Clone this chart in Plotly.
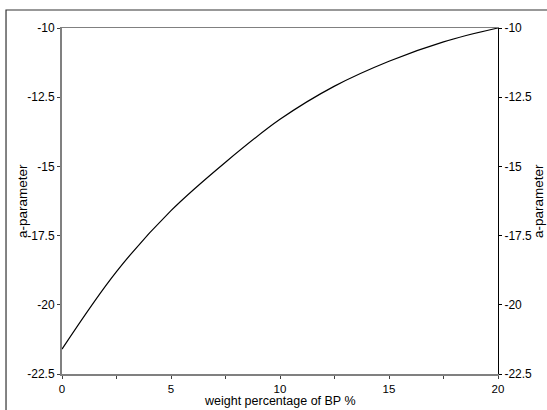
import plotly.graph_objects as go

x_wt = [0, 2.5, 5, 7.5, 10, 12.5, 15, 17.5, 20]
a_param = [-21.6, -18.8, -16.6, -14.85, -13.3, -12.1, -11.2, -10.5, -10.0]
x_ticks = [0, 5, 10, 15, 20]
y_ticks = [-22.5, -20, -17.5, -15, -12.5, -10]
y_ticklabels = ["-22.5", "-20", "-17.5", "-15", "-12.5", "-10"]

FONT = "Liberation Sans, Arial, sans-serif"
fig = go.Figure()
fig.add_trace(go.Scatter(x=x_wt, y=a_param, mode="lines",
                         line=dict(color="black", width=1.2, shape="spline"),
                         showlegend=False, hoverinfo="skip"))
fig.add_trace(go.Scatter(x=x_wt, y=a_param, mode="lines", xaxis="x2", yaxis="y2",
                         line=dict(color="rgba(0,0,0,0)", width=0),
                         showlegend=False, hoverinfo="skip"))

fig.update_layout(
    width=547, height=410,
    margin=dict(l=62, r=49, t=28, b=36, autoexpand=False),
    paper_bgcolor="white", plot_bgcolor="white",
    font=dict(family=FONT, size=12, color="black"),
    xaxis=dict(range=[0, 20], tickvals=x_ticks, ticktext=[str(v) for v in x_ticks],
               automargin=False,
               showline=True, linecolor="#808080", linewidth=2,
               ticks="outside", ticklen=3, tickcolor="#404040", tickwidth=1,
               minor=dict(dtick=2.5, tick0=0, ticks="outside", ticklen=3, tickcolor="#404040"),
               showgrid=False, zeroline=False, tickfont=dict(size=11.5, color="black")),
    yaxis=dict(range=[-22.5, -10], tickvals=y_ticks, ticktext=y_ticklabels,
               automargin=False,
               showline=True, linecolor="#808080", linewidth=2,
               ticks="outside", ticklen=3, tickcolor="#404040", tickwidth=1,
               showgrid=False, zeroline=False, tickfont=dict(size=12, color="black")),
    xaxis2=dict(range=[0, 20], overlaying="x", side="top", showline=True, automargin=False,
                linecolor="#808080", linewidth=1, showticklabels=False, ticks="",
                showgrid=False, zeroline=False),
    yaxis2=dict(range=[-22.5, -10], overlaying="y", side="right", tickvals=y_ticks,
                automargin=False,
                ticktext=y_ticklabels, showline=True, linecolor="black", linewidth=1,
                ticks="outside", ticklen=3, tickcolor="black", showgrid=False,
                zeroline=False, tickfont=dict(size=12, color="black")),
    annotations=[
        dict(text="weight percentage of BP %", xref="paper", yref="paper", x=0.5,
             y=-27 / 346, showarrow=False, font=dict(size=12.5, color="black"),
             xanchor="center", yanchor="middle"),
        dict(text="a-parameter", xref="paper", yref="paper", x=-0.0917, y=0.5,
             textangle=-90, showarrow=False, font=dict(size=13.5, color="black"),
             xanchor="center", yanchor="middle"),
        dict(text="a-parameter", xref="paper", yref="paper", x=1.0917, y=0.5,
             textangle=-90, showarrow=False, font=dict(size=13.5, color="black"),
             xanchor="center", yanchor="middle"),
    ],
    shapes=[dict(type="rect", xref="paper", yref="paper", x0=-0.1284, x1=1.2,
                 y0=-0.2, y1=(374 - 10) / 346, line=dict(color="#333333", width=1.2),
                 fillcolor="rgba(0,0,0,0)", layer="below")],
)
fig.write_html("out.html")
